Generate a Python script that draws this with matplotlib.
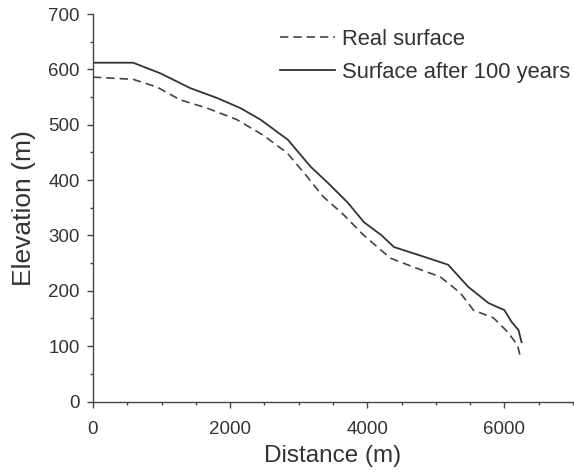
import matplotlib
matplotlib.use('Agg')
import matplotlib.pyplot as plt
from matplotlib.ticker import MultipleLocator

plt.rcParams['font.family'] = ['Liberation Sans', 'DejaVu Sans']

# surface after 100 years (solid)
dist_after = [0, 585, 980, 1420, 1815, 2150, 2445, 2840, 3175, 3425, 3717, 3950,
              4200, 4390, 4888, 5180, 5473, 5766, 6000, 6103, 6205, 6250]
elev_after = [612, 612, 593, 566, 548, 530, 509, 473, 424, 395, 359, 324,
              301, 279, 259, 247, 207, 178, 165, 144, 129, 107]

# real surface (dashed)
dist_real = [0, 584, 934, 1270, 1664, 2102, 2482, 2832, 3124, 3358, 3650, 3942,
             4336, 4672, 5066, 5358, 5548, 5840, 6044, 6190, 6234]
elev_real = [586, 582, 568, 545, 530, 509, 481, 449, 406, 370, 338, 301,
             259, 243, 225, 196, 165, 151, 126, 102, 80]

txt = '#333333'
fig = plt.figure(figsize=(5.74, 4.74), dpi=100)
ax = fig.add_axes([93 / 574, 72.5 / 474, 480 / 574, 387.5 / 474])

ax.plot(dist_real, elev_real, color='#444444', lw=1.2, linestyle=(0, (5, 3)),
        label='Real surface')
ax.plot(dist_after, elev_after, color='#333333', lw=1.3, label='Surface after 100 years')

ax.set_xlim(0, 7000)
ax.set_ylim(0, 700)
ax.xaxis.set_major_locator(MultipleLocator(2000))
ax.xaxis.set_minor_locator(MultipleLocator(500))
ax.yaxis.set_major_locator(MultipleLocator(100))
ax.yaxis.set_minor_locator(MultipleLocator(50))

for s in ['top', 'right']:
    ax.spines[s].set_visible(False)
for s in ['left', 'bottom']:
    ax.spines[s].set_color('#444444')
    ax.spines[s].set_linewidth(1.0)

ax.tick_params(which='major', direction='out', length=4, width=1.0, color='#444444',
               labelsize=13.5, labelcolor=txt)
ax.tick_params(which='minor', direction='out', length=2.5, width=1.0, color='#444444')
ax.tick_params(axis='x', which='major', pad=10)
ax.tick_params(axis='y', which='major', pad=5.5)

ax.set_xlabel('Distance (m)', fontsize=17.5, color=txt, labelpad=5)
ax.set_ylabel('Elevation (m)', fontsize=19, color=txt, labelpad=9)

ax.legend(loc='upper left', bbox_to_anchor=(271 / 574, 1 - 20 / 474),
          bbox_transform=fig.transFigure, frameon=False, fontsize=15.8,
          handlelength=2.5, handletextpad=0.35, labelspacing=0.55,
          borderaxespad=0, labelcolor=txt)

fig.savefig('out.png', dpi=100)
